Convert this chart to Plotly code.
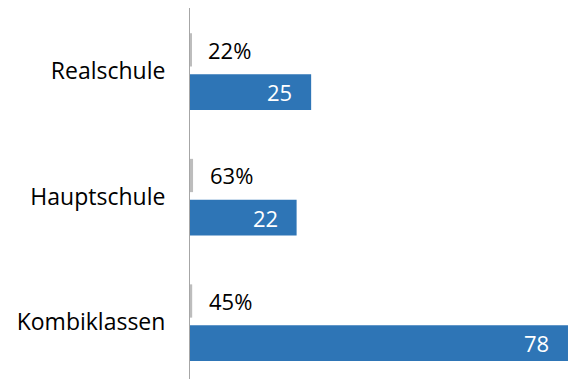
import plotly.graph_objects as go

categories = ["Realschule", "Hauptschule", "Kombiklassen"]
share_values = [0.22, 0.63, 0.45]
count_values = [25, 22, 78]

gray = "#BDBDBD"
blue = "#2E75B6"
font_family = "Open Sans, sans-serif"

fig = go.Figure()
fig.add_trace(go.Bar(
    y=categories, x=share_values, orientation="h",
    marker=dict(color=gray, line=dict(width=0)),
    width=0.265, offset=-0.30, showlegend=False, hoverinfo="skip",
))
fig.add_trace(go.Bar(
    y=categories, x=count_values, orientation="h",
    marker=dict(color=blue, line=dict(width=0)),
    width=0.285, offset=0.025, showlegend=False, hoverinfo="skip",
))

annotations = []
for i, (c, s) in enumerate(zip(categories, share_values)):
    annotations.append(dict(
        x=s, y=i - 0.30 + 0.1325, xref="x", yref="y",
        text=f"{round(s * 100)}%", showarrow=False,
        xanchor="left", yanchor="middle", xshift=15,
        font=dict(family=font_family, size=22, color="#000000"),
    ))
for i, (c, v) in enumerate(zip(categories, count_values)):
    annotations.append(dict(
        x=v, y=i + 0.025 + 0.1425, xref="x", yref="y",
        text=f"{v}", showarrow=False,
        xanchor="right", yanchor="middle", xshift=-17,
        font=dict(family=font_family, size=22, color="#FFFFFF"),
    ))

fig.update_layout(
    width=574, height=379,
    margin=dict(l=190, r=0, t=8, b=0),
    paper_bgcolor="white", plot_bgcolor="white",
    barmode="group",
    annotations=annotations,
    xaxis=dict(range=[0, 79.24], showgrid=False, zeroline=False,
               showticklabels=False, showline=False, ticks=""),
    yaxis=dict(type="category", range=[2.454, -0.502],
               showgrid=False, zeroline=False, showline=True,
               linecolor="#A6A6A6", linewidth=1, ticks="",
               ticklabelstandoff=19,
               tickfont=dict(family=font_family, size=23, color="#000000")),
)

fig.write_html("out.html")
